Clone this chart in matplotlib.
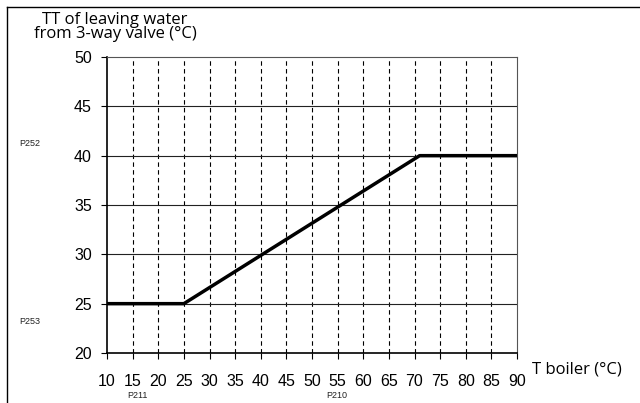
import matplotlib.pyplot as plt
from matplotlib.lines import Line2D

t_boiler = [10, 25, 71, 90]
t_water = [25, 25, 40, 40]
x_ticks = list(range(10, 95, 5))
y_ticks = [20, 25, 30, 35, 40, 45, 50]

plt.rcParams['font.family'] = ['Open Sans', 'DejaVu Sans']

fig = plt.figure(figsize=(6.4, 4.03), dpi=100)
ax = fig.add_axes([107 / 640, 1 - 353 / 403, 410 / 640, 296 / 403])

ax.set_xlim(10, 90)
ax.set_ylim(20, 50)
ax.set_xticks(x_ticks)
ax.set_yticks(y_ticks)
ax.tick_params(length=4, width=0.8, colors='black')
ax.tick_params(axis='x', pad=11)
ax.tick_params(axis='y', pad=7)
for lab in ax.get_xticklabels() + ax.get_yticklabels():
    lab.set_fontfamily('Liberation Sans')
    lab.set_fontsize(11.5)

for x in x_ticks[1:-1]:
    ax.axvline(x, color='black', lw=0.8, ls=(0, (4, 3)), zorder=1)
for y in y_ticks[1:-1]:
    ax.axhline(y, color='#222222', lw=0.8, zorder=1)

ax.plot(t_boiler, t_water, color='black', lw=2.5, solid_capstyle='butt', zorder=3)

ax.spines['left'].set_linewidth(1.2)
ax.spines['bottom'].set_linewidth(1.2)
for side in ['top', 'right']:
    ax.spines[side].set_color('#555555')
    ax.spines[side].set_linewidth(0.8)

fig.text(115 / 640, 1 - 27 / 403, 'TT of leaving water\nfrom 3-way valve (°C)',
         ha='center', va='center', fontsize=12, linespacing=0.9)
fig.text(532 / 640, 1 - 369 / 403, 'T boiler (°C)', ha='left', va='center', fontsize=12)

for s, x, y in [('P252', 19, 144), ('P253', 19, 322), ('P211', 127, 396), ('P210', 326, 396)]:
    fig.text(x / 640, 1 - y / 403, s, ha='left', va='center', fontsize=6.5,
             family='Liberation Sans', color='#222222')

fig.add_artist(Line2D([7 / 640, 7 / 640], [0, 1 - 7 / 403], color='black', lw=1))
fig.add_artist(Line2D([7 / 640, 1], [1 - 7 / 403, 1 - 7 / 403], color='black', lw=1))

fig.savefig('out.png', dpi=100)
